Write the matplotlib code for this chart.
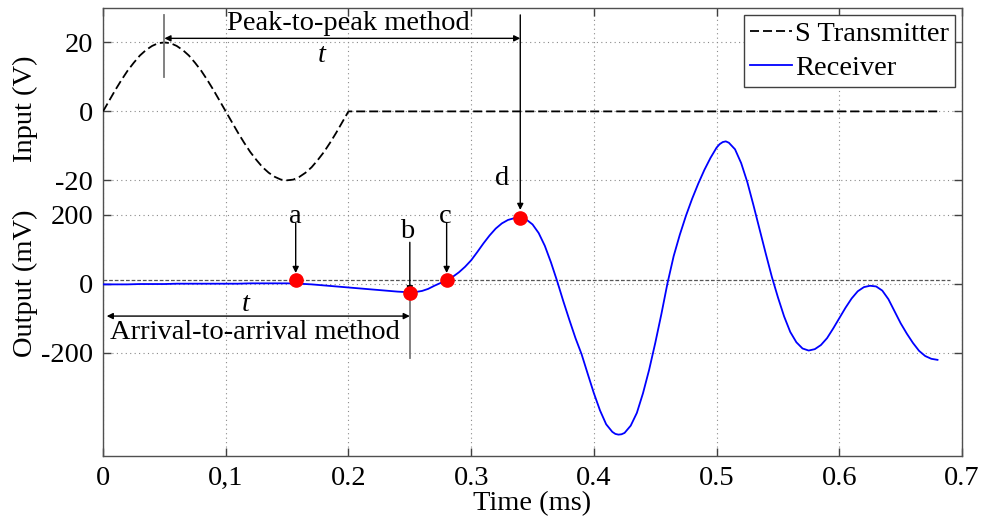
import numpy as np
import matplotlib.pyplot as plt

## Input signal (V): one sine cycle, then flat
tx_time = [0.000, 0.005, 0.010, 0.015, 0.020, 0.025, 0.030, 0.035, 0.040, 0.045,
           0.050, 0.055, 0.060, 0.065, 0.070, 0.075, 0.080, 0.085, 0.090, 0.095,
           0.100, 0.105, 0.110, 0.115, 0.120, 0.125, 0.130, 0.135, 0.140, 0.145,
           0.150, 0.155, 0.160, 0.165, 0.170, 0.175, 0.180, 0.185, 0.190, 0.195,
           0.200, 0.682]
tx_volts = [0.0, 3.1, 6.2, 9.1, 11.8, 14.1, 16.2, 17.8, 19.0, 19.8,
            20.0, 19.8, 19.0, 17.8, 16.2, 14.1, 11.8, 9.1, 6.2, 3.1,
            0.0, -3.1, -6.2, -9.1, -11.8, -14.1, -16.2, -17.8, -19.0, -19.8,
            -20.0, -19.8, -19.0, -17.8, -16.2, -14.1, -11.8, -9.1, -6.2, -3.1,
            0.0, 0.0]

## Received signal (mV)
rx_time = [0.00, 0.01, 0.02, 0.03, 0.04, 0.05, 0.06, 0.07, 0.08, 0.09,
           0.10, 0.11, 0.12, 0.13, 0.14, 0.15, 0.16, 0.17, 0.18, 0.19,
           0.20, 0.21, 0.22, 0.23, 0.24, 0.25,
           0.255, 0.260, 0.265, 0.270, 0.275, 0.280, 0.285, 0.290, 0.295, 0.300,
           0.305, 0.310, 0.315, 0.320, 0.325, 0.330, 0.335, 0.340, 0.345, 0.350,
           0.355, 0.360, 0.365, 0.370, 0.375, 0.380, 0.385, 0.390, 0.395, 0.400,
           0.405, 0.410, 0.415, 0.4175, 0.420, 0.4225, 0.425, 0.430, 0.435, 0.440,
           0.445, 0.450, 0.455, 0.460, 0.465, 0.470, 0.475, 0.480, 0.485, 0.490,
           0.495, 0.500, 0.5025, 0.505, 0.5075, 0.510, 0.515, 0.520, 0.525, 0.530,
           0.535, 0.540, 0.545, 0.550, 0.555, 0.560, 0.565, 0.570, 0.575, 0.580,
           0.585, 0.590, 0.595, 0.600, 0.605, 0.610, 0.615, 0.620, 0.625, 0.630,
           0.635, 0.640, 0.645, 0.650, 0.655, 0.660, 0.665, 0.670, 0.675, 0.680]
rx_mv = [-2, -2, -2, -1, -1, -1, 0, 0, 0, 0,
         0, 0, 1, 1, 1, 1, 0, -2, -5, -8,
         -11, -14, -17, -20, -23, -25,
         -24, -21, -15, -6, 2, 10, 20, 33, 49, 68,
         92, 117, 140, 160, 175, 185, 190, 191, 186, 172,
         147, 110, 62, 8, -50, -105, -158, -205, -262, -318,
         -368, -408, -430, -436, -438, -437, -433, -412, -375, -318,
         -250, -172, -88, 2, 80, 142, 197, 246, 290, 330,
         365, 395, 405, 411, 413, 409, 390, 350, 295, 228,
         158, 88, 20, -40, -95, -140, -170, -188, -194, -190,
         -178, -158, -130, -100, -70, -43, -22, -10, -6, -8,
         -20, -45, -80, -115, -145, -172, -195, -210, -218, -221]

## arrival threshold (mV) and picked points a-d
threshold_mv = 10
pick_names = ['a', 'b', 'c', 'd']
pick_time = [0.157, 0.250, 0.280, 0.340]
pick_mv = [10, -26, 10, 190]

x_ticks = [0, 0.1, 0.2, 0.3, 0.4, 0.5, 0.6, 0.7]
x_labels = ['0', '0,1', '0.2', '0.3', '0.4', '0.5', '0.6', '0.7']
in_ticks = [-20, 0, 20]
out_ticks = [-200, 0, 200]

## output drawn on the same axis as the input: y = mV/10 - 50
OUT_SCALE = 0.1
OUT_SHIFT = -50


def out_y(mv):
    return np.asarray(mv, dtype=float) * OUT_SCALE + OUT_SHIFT


def main():
    plt.rcParams['font.family'] = ['Liberation Serif', 'DejaVu Serif']
    fs = 20.5

    fig = plt.figure(figsize=(9.85, 5.24), dpi=100)
    ax = fig.add_axes([0.1046, 0.1298, 0.8721, 0.8549])

    ax.plot(tx_time, tx_volts, color='black', lw=1.3, ls=(0, (5, 2.2)),
            label='S Transmitter', zorder=3)
    ax.plot(rx_time, out_y(rx_mv), color='blue', lw=1.3, label='Receiver', zorder=3)
    ax.plot([0, 0.69], out_y([threshold_mv, threshold_mv]), color='#555555',
            lw=0.9, ls=(0, (3, 1.5)), zorder=2)

    ax.plot(pick_time, out_y(pick_mv), 'o', color='red', ms=9.5, mec='red', zorder=5)

    ## annotation arrows
    ap = dict(arrowstyle='-|>', color='black', lw=1.0, mutation_scale=9,
              shrinkA=0, shrinkB=0)
    dp = dict(arrowstyle='<|-|>', color='black', lw=1.0, mutation_scale=9,
              shrinkA=0, shrinkB=0)
    # peak to peak
    ax.plot([0.05, 0.05], [28.0, 10.1], color='#777777', lw=1.3, zorder=4)
    ax.annotate('', xy=(0.34, 21.2), xytext=(0.05, 21.2), arrowprops=dp)
    ax.annotate('', xy=(0.34, -28.6), xytext=(0.34, 28.0), arrowprops=ap)
    ax.text(0.20, 25.4, 'Peak-to-peak method', fontsize=fs, ha='center', va='center')
    ax.text(0.178, 16.2, 't', fontsize=fs, style='italic', ha='center', va='center')
    # arrival to arrival
    ax.plot([0.25, 0.25], [-52.5, -71.5], color='#777777', lw=1.3, zorder=4)
    ax.annotate('', xy=(0.25, -59.4), xytext=(0.003, -59.4), arrowprops=dp)
    ax.text(0.124, -64.2, 'Arrival-to-arrival method', fontsize=fs, ha='center', va='center')
    ax.text(0.116, -56.0, 't', fontsize=fs, style='italic', ha='center', va='center')
    # picked points
    ax.annotate('', xy=(0.157, -46.9), xytext=(0.157, -32.4), arrowprops=ap)
    ax.text(0.157, -30.6, 'a', fontsize=fs, ha='center', va='center')
    ax.annotate('', xy=(0.25, -52.5), xytext=(0.25, -38.0), arrowprops=ap)
    ax.text(0.248, -34.8, 'b', fontsize=fs, ha='center', va='center')
    ax.annotate('', xy=(0.28, -46.9), xytext=(0.28, -32.4), arrowprops=ap)
    ax.text(0.279, -30.6, 'c', fontsize=fs, ha='center', va='center')
    ax.text(0.325, -19.6, 'd', fontsize=fs, ha='center', va='center')

    ax.set_xlim(0, 0.7)
    ax.set_ylim(-100, 30)
    ax.set_xticks(x_ticks)
    ax.set_xticklabels(x_labels)
    y_ticks = list(out_y(out_ticks)) + in_ticks
    y_labels = [str(v) for v in out_ticks] + [str(v) for v in in_ticks]
    ax.set_yticks(y_ticks)
    ax.set_yticklabels(y_labels)
    ax.tick_params(direction='in', length=6, width=1.0, color='#404040',
                   top=True, right=True, labelsize=fs, pad=7)
    ax.grid(True, color='#8a8a8a', lw=0.8, ls=(0, (1, 3)))
    for s in ax.spines.values():
        s.set_color('#505050')
        s.set_linewidth(1.0)

    ax.set_xlabel('Time (ms)', fontsize=fs, labelpad=0)
    fig.text(25 / 985, 1 - 109 / 524, 'Input (V)', rotation=90, fontsize=fs,
             ha='center', va='center')
    fig.text(25 / 985, 1 - 283 / 524, 'Output (mV)', rotation=90, fontsize=fs,
             ha='center', va='center')

    leg = ax.legend(loc='upper right', fontsize=fs, handlelength=1.5,
                    handletextpad=0.1, labelspacing=0.3, borderaxespad=0.25,
                    borderpad=0.2, fancybox=False, framealpha=1)
    leg.get_frame().set_edgecolor('#404040')
    leg.get_frame().set_linewidth(1.0)

    fig.savefig('out.png', dpi=100)


main()
